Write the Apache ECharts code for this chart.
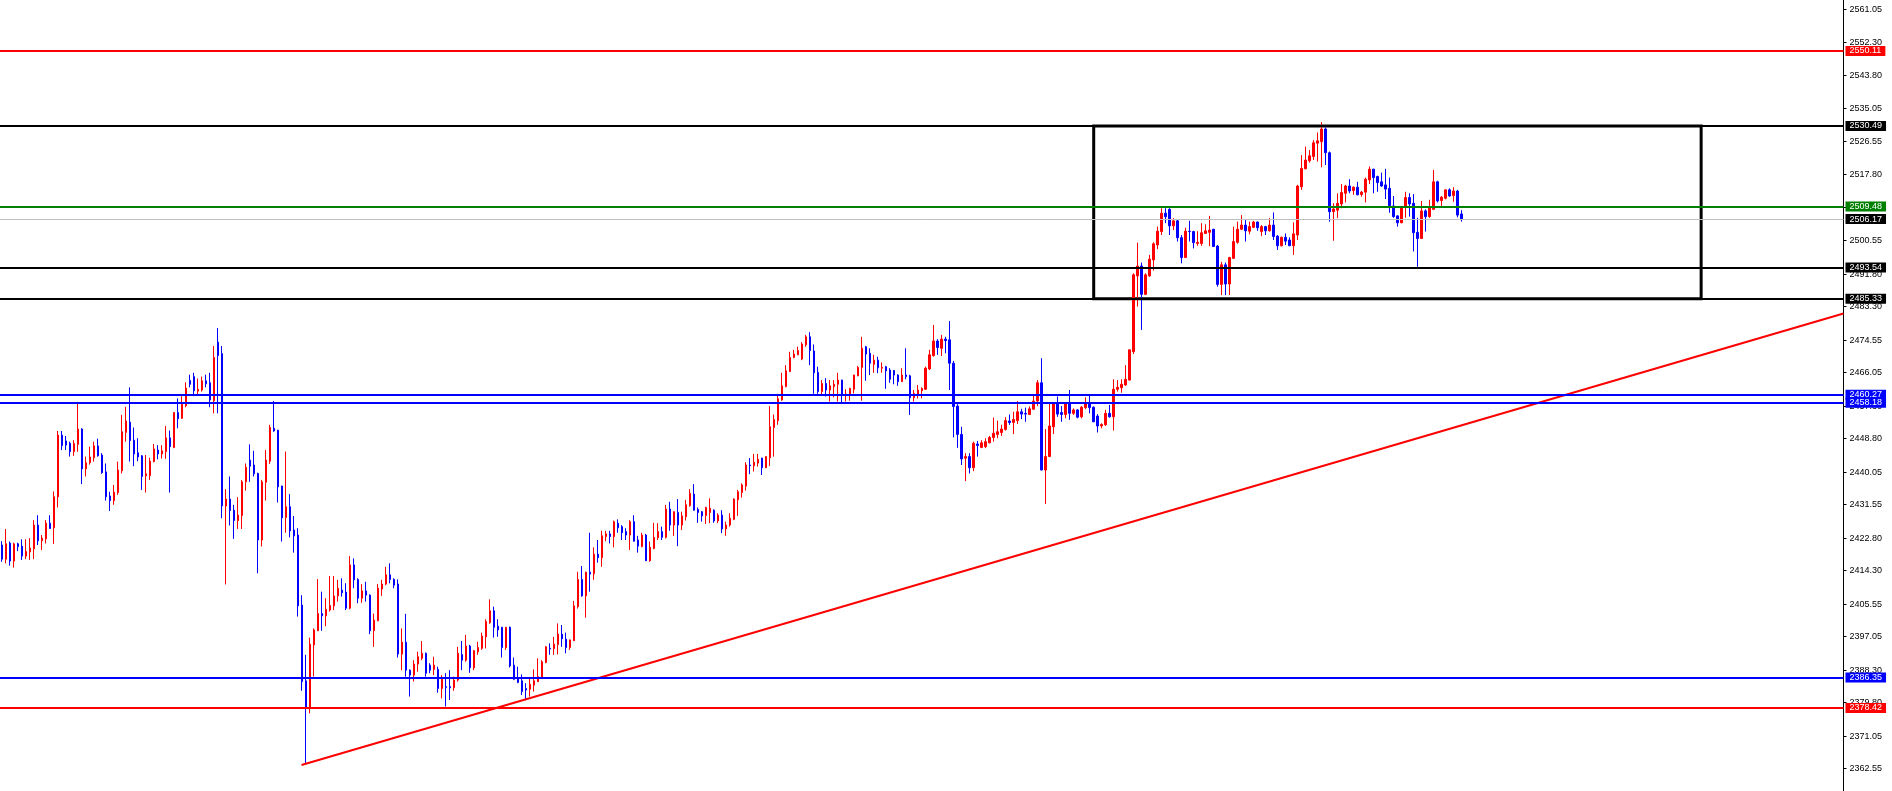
<!DOCTYPE html>
<html><head><meta charset="utf-8">
<script src="https://cdn.jsdelivr.net/npm/echarts@6/dist/echarts.min.js"></script>
<style>html,body{margin:0;padding:0;background:#fff;overflow:hidden}#c{width:1892px;height:791px}</style>
</head><body><div id="c"></div>
<script>
// candles: [open, close, low, high]
const candles = [
[2421.0,2417.3,2416.6,2422.0],[2417.3,2421.3,2416.2,2425.2],[2421.5,2416.8,2415.6,2421.9],[2416.8,2421.3,2415.1,2421.6],
[2421.3,2420.6,2419.4,2421.6],[2420.7,2418.1,2417.1,2422.5],[2418.1,2419.3,2417.3,2422.5],[2419.2,2420.2,2417.1,2422.8],
[2420.0,2426.2,2417.3,2427.5],[2426.2,2422.1,2421.0,2428.8],[2422.1,2422.8,2419.7,2423.6],[2422.6,2426.7,2421.4,2427.5],
[2426.7,2425.3,2425.2,2428.8],[2425.5,2433.6,2421.3,2435.0],[2433.6,2449.7,2430.8,2450.8],[2449.7,2447.0,2445.8,2450.8],
[2448.2,2447.1,2445.8,2449.5],[2447.6,2445.4,2444.1,2448.0],[2445.4,2447.5,2444.3,2448.4],[2447.3,2451.3,2445.4,2458.0],
[2451.3,2440.9,2436.9,2451.5],[2440.9,2442.5,2438.9,2444.1],[2442.5,2444.0,2442.0,2446.7],[2443.8,2446.9,2442.8,2448.0],
[2446.9,2444.3,2444.1,2448.8],[2444.5,2439.9,2439.6,2445.0],[2440.1,2433.6,2432.6,2442.3],[2433.8,2432.6,2429.9,2434.9],
[2432.6,2434.8,2431.5,2436.7],[2434.7,2440.6,2434.1,2442.8],[2440.4,2450.6,2439.7,2455.0],[2450.4,2453.4,2448.0,2457.1],
[2453.1,2448.3,2442.8,2462.2],[2448.4,2444.8,2441.6,2451.7],[2445.1,2444.0,2442.9,2448.9],[2444.3,2438.9,2435.4,2444.5],
[2439.1,2439.6,2434.7,2444.5],[2439.1,2442.9,2438.0,2443.8],[2442.8,2446.1,2442.6,2447.4],[2445.8,2444.8,2443.4,2447.1],
[2444.8,2445.6,2443.6,2447.1],[2445.4,2449.0,2443.5,2452.1],[2449.0,2446.7,2434.7,2450.9],[2446.5,2455.6,2446.3,2455.7],
[2455.6,2454.0,2451.5,2459.3],[2454.1,2457.8,2454.0,2459.9],[2457.4,2462.0,2457.0,2463.5],[2464.0,2463.0,2462.2,2465.5],
[2465.0,2461.3,2459.9,2466.0],[2461.2,2461.7,2460.2,2464.5],[2461.5,2463.9,2461.1,2465.0],[2463.9,2463.1,2462.2,2465.5],
[2463.4,2458.9,2457.0,2466.0],[2458.7,2470.0,2455.4,2473.0],[2474.0,2470.5,2455.4,2477.7],[2471.0,2431.2,2428.0,2473.0],
[2431.2,2433.0,2410.7,2435.6],[2433.0,2430.0,2426.1,2438.9],[2430.1,2427.4,2422.6,2431.5],[2427.4,2428.8,2425.2,2433.5],
[2428.7,2437.5,2425.2,2438.0],[2437.5,2441.3,2435.2,2442.3],[2443.2,2441.6,2437.5,2447.3],[2441.9,2439.6,2438.9,2445.6],
[2439.7,2422.3,2413.6,2439.9],[2422.3,2437.5,2420.6,2438.0],[2437.4,2443.2,2432.6,2445.8],[2442.9,2451.7,2442.2,2452.4],
[2451.5,2450.8,2450.6,2458.6],[2451.0,2436.2,2432.1,2451.1],[2436.4,2428.1,2421.9,2436.5],[2428.2,2431.0,2424.2,2445.4],
[2431.0,2424.7,2423.0,2434.3],[2424.9,2423.4,2419.0,2428.6],[2423.6,2405.1,2402.3,2425.4],[2405.3,2385.3,2382.9,2407.9],
[2385.5,2378.5,2363.9,2392.3],[2378.5,2395.1,2377.0,2396.8],[2394.9,2398.8,2386.6,2399.2],[2398.6,2403.1,2398.5,2412.1],
[2403.1,2402.5,2398.6,2408.8],[2402.5,2404.2,2399.8,2407.1],[2404.0,2405.2,2403.6,2412.9],[2405.1,2407.7,2404.0,2412.9],
[2407.7,2409.7,2406.2,2411.9],[2409.2,2408.5,2407.5,2412.3],[2408.7,2404.5,2404.0,2411.0],[2404.5,2415.8,2404.2,2418.1],
[2415.8,2411.9,2409.7,2417.5],[2412.0,2407.1,2405.8,2412.3],[2407.1,2409.0,2405.9,2410.8],[2409.0,2407.9,2406.2,2411.4],
[2407.9,2398.6,2397.7,2408.1],[2398.6,2401.4,2394.4,2403.1],[2401.2,2409.7,2401.1,2410.8],[2409.5,2410.8,2407.7,2411.9],
[2410.8,2413.2,2410.5,2415.3],[2413.2,2412.0,2411.0,2416.2],[2412.0,2410.5,2409.7,2412.3],[2410.8,2392.5,2391.6,2412.0],
[2392.5,2395.6,2388.3,2399.2],[2395.6,2388.3,2386.6,2403.0],[2388.3,2387.0,2381.4,2388.5],[2387.0,2389.9,2385.3,2390.9],
[2389.9,2391.8,2387.9,2393.1],[2391.4,2392.7,2390.9,2395.9],[2392.7,2387.5,2386.6,2392.9],[2389.6,2388.3,2387.5,2390.1],
[2388.5,2389.6,2387.0,2391.8],[2388.5,2383.5,2382.4,2389.2],[2383.5,2385.9,2380.9,2387.0],[2384.0,2383.8,2378.8,2387.5],
[2384.0,2383.7,2380.5,2388.3],[2383.7,2385.7,2382.9,2386.6],[2385.7,2392.7,2385.3,2394.4],[2392.4,2390.9,2388.3,2395.9],
[2390.9,2394.6,2390.5,2397.5],[2394.6,2388.9,2387.6,2394.9],[2388.9,2393.4,2388.3,2393.6],[2393.1,2394.2,2392.3,2395.7],
[2394.0,2397.2,2393.6,2398.1],[2397.0,2401.0,2394.0,2401.6],[2400.7,2403.8,2400.4,2406.8],[2403.8,2399.5,2396.8,2404.9],
[2399.8,2398.8,2397.0,2401.6],[2399.5,2394.2,2391.6,2399.6],[2394.2,2399.5,2393.6,2399.6],[2399.5,2389.4,2389.0,2399.7],
[2389.6,2385.9,2385.7,2391.6],[2386.1,2385.1,2384.9,2389.2],[2385.5,2382.7,2381.8,2387.2],[2383.5,2383.1,2380.5,2384.9],
[2383.3,2384.6,2381.4,2386.2],[2384.4,2385.5,2382.7,2388.5],[2385.3,2386.6,2385.2,2391.4],[2386.4,2390.5,2386.3,2390.9],
[2390.3,2394.4,2390.1,2394.6],[2394.0,2393.8,2392.3,2395.3],[2393.9,2395.1,2392.3,2397.0],[2395.0,2397.7,2392.4,2400.5],
[2397.7,2396.5,2394.4,2400.1],[2396.4,2394.2,2392.7,2398.1],[2394.2,2396.2,2393.6,2396.3],[2396.0,2405.1,2395.9,2406.4],
[2404.9,2412.0,2404.4,2414.0],[2412.0,2407.7,2407.5,2415.5],[2407.7,2413.9,2402.0,2414.0],[2413.9,2413.4,2408.8,2424.2],
[2413.5,2418.6,2411.9,2420.4],[2418.6,2417.7,2416.4,2422.3],[2417.7,2423.4,2415.3,2424.7],[2423.2,2423.9,2422.0,2424.7],
[2423.9,2423.2,2421.4,2424.7],[2423.2,2427.1,2420.4,2427.4],[2426.7,2425.5,2424.2,2427.7],[2425.8,2424.2,2422.3,2426.2],
[2424.5,2423.6,2422.3,2425.4],[2423.6,2427.1,2419.7,2427.5],[2427.1,2422.0,2421.9,2428.8],[2422.3,2420.7,2419.0,2423.4],
[2420.6,2423.6,2420.4,2424.2],[2423.6,2416.9,2416.8,2423.9],[2416.9,2420.4,2416.6,2421.9],[2420.1,2423.0,2419.9,2426.8],
[2422.9,2424.5,2422.3,2426.7],[2424.5,2423.0,2422.3,2425.8],[2423.0,2430.4,2422.7,2431.5],[2430.4,2426.2,2424.7,2432.3],
[2426.2,2429.7,2423.4,2429.8],[2429.5,2426.2,2420.7,2433.0],[2426.2,2428.6,2424.9,2429.7],[2428.4,2431.5,2427.4,2432.8],
[2431.3,2434.5,2431.0,2435.6],[2434.3,2430.1,2430.0,2436.9],[2430.3,2429.5,2426.8,2430.8],[2429.7,2428.6,2427.1,2429.9],
[2428.7,2430.8,2426.5,2431.0],[2429.5,2430.6,2426.7,2433.2],[2430.1,2427.3,2426.8,2430.3],[2427.3,2428.8,2426.7,2429.3],
[2428.8,2425.2,2424.1,2430.1],[2425.2,2426.2,2423.4,2427.1],[2426.2,2428.0,2425.8,2429.3],[2427.7,2433.0,2427.5,2433.2],
[2432.8,2434.9,2428.6,2435.4],[2434.7,2436.7,2433.4,2437.1],[2436.4,2441.9,2435.2,2442.6],[2441.9,2441.7,2439.5,2443.7],
[2441.7,2442.6,2440.2,2444.8],[2442.4,2443.4,2441.5,2444.8],[2443.7,2441.2,2439.3,2443.8],[2441.2,2444.1,2441.1,2444.2],
[2443.8,2451.9,2441.6,2457.3],[2451.7,2453.8,2444.1,2455.1],[2453.5,2459.2,2452.4,2460.5],[2458.9,2462.6,2458.7,2466.0],
[2462.4,2466.5,2462.2,2468.0],[2466.3,2470.0,2466.2,2471.5],[2470.0,2470.9,2469.8,2472.0],[2470.7,2471.8,2470.6,2472.8],
[2469.6,2473.5,2469.3,2474.0],[2473.3,2475.4,2472.8,2475.9],[2475.4,2471.8,2468.0,2476.6],[2471.7,2466.0,2460.5,2473.4],
[2466.1,2461.1,2460.5,2467.6],[2461.1,2463.2,2460.2,2464.1],[2463.2,2461.5,2459.8,2464.6],[2461.5,2462.6,2458.5,2464.1],
[2462.4,2463.0,2459.6,2464.1],[2463.0,2464.1,2458.5,2466.0],[2464.1,2460.4,2458.2,2464.2],[2460.2,2460.4,2458.5,2461.7],
[2460.4,2461.9,2458.7,2462.1],[2461.7,2465.4,2460.6,2465.5],[2465.2,2467.4,2465.1,2467.8],[2467.4,2472.4,2458.7,2475.4],
[2472.8,2470.9,2463.9,2473.0],[2471.1,2468.5,2465.4,2472.4],[2468.2,2469.3,2466.0,2470.7],[2469.3,2467.3,2465.9,2470.2],
[2467.2,2467.4,2466.0,2468.7],[2467.6,2466.5,2461.8,2467.8],[2466.7,2464.3,2463.4,2467.2],[2466.6,2465.4,2463.0,2466.7],
[2465.4,2463.7,2462.6,2465.6],[2463.7,2465.4,2463.6,2467.2],[2465.4,2465.0,2464.3,2472.4],[2465.2,2459.5,2455.0,2465.5],
[2459.5,2460.6,2458.5,2461.5],[2460.4,2461.5,2459.3,2462.8],[2461.3,2461.9,2459.3,2462.2],[2461.7,2467.2,2461.5,2467.6],
[2467.0,2470.7,2466.7,2472.0],[2470.5,2474.3,2470.2,2478.5],[2474.3,2472.6,2470.7,2474.8],[2472.4,2474.8,2470.4,2475.9],
[2474.8,2474.4,2471.1,2475.4],[2474.6,2468.5,2461.5,2479.5],[2468.5,2457.2,2449.1,2469.1],[2457.3,2449.9,2446.4,2457.8],
[2449.9,2443.5,2441.9,2451.9],[2443.7,2444.1,2437.7,2445.0],[2444.1,2441.2,2439.7,2445.0],[2441.2,2447.6,2440.3,2448.0],
[2447.4,2447.0,2444.1,2448.2],[2446.5,2447.7,2446.3,2448.4],[2446.7,2448.0,2446.3,2448.9],[2447.7,2449.1,2447.6,2449.5],
[2449.1,2450.2,2448.0,2454.3],[2449.9,2450.6,2448.9,2453.5],[2450.4,2451.3,2449.5,2452.4],[2451.2,2453.5,2450.9,2454.4],
[2453.4,2453.0,2452.4,2455.1],[2453.0,2453.8,2450.0,2455.8],[2453.5,2455.8,2452.6,2458.6],[2455.8,2455.2,2453.9,2456.6],
[2455.4,2455.2,2453.2,2456.9],[2455.1,2456.6,2455.0,2457.2],[2456.5,2458.6,2456.3,2460.2],[2458.6,2463.4,2457.3,2464.1],
[2463.4,2440.6,2440.5,2469.8],[2440.6,2444.1,2431.7,2451.3],[2444.1,2452.1,2444.0,2458.0],[2451.9,2458.0,2450.0,2458.1],
[2458.0,2455.2,2454.5,2459.8],[2455.6,2455.1,2453.2,2457.3],[2455.1,2458.0,2454.1,2458.1],[2458.0,2455.4,2453.7,2461.5],
[2455.4,2456.3,2455.0,2456.7],[2456.3,2454.4,2454.1,2456.5],[2454.5,2457.0,2454.1,2457.3],[2456.9,2458.0,2456.5,2459.6],
[2458.0,2456.9,2455.4,2460.2],[2457.0,2453.2,2453.1,2457.2],[2454.7,2452.1,2450.4,2455.2],[2452.1,2452.5,2451.5,2452.8],
[2452.4,2455.4,2452.1,2456.3],[2455.4,2454.5,2454.3,2457.6],[2454.5,2461.7,2450.9,2464.3],[2461.7,2462.2,2461.1,2464.1],
[2462.1,2463.0,2460.8,2464.3],[2462.8,2464.3,2462.6,2468.0],[2464.1,2472.0,2464.0,2472.1],[2471.5,2491.6,2470.9,2492.0],
[2491.3,2493.9,2483.3,2500.0],[2493.9,2486.5,2477.2,2494.8],[2486.5,2491.6,2486.3,2492.0],[2491.3,2495.7,2491.1,2496.8],
[2495.5,2499.7,2492.7,2500.1],[2499.4,2503.0,2498.3,2504.2],[2502.9,2507.7,2502.0,2509.0],[2507.7,2506.8,2505.1,2509.0],
[2508.7,2504.4,2502.0,2509.0],[2504.4,2505.7,2503.3,2506.4],[2505.7,2501.3,2500.3,2506.1],[2501.3,2496.1,2494.6,2502.0],
[2496.1,2503.0,2496.0,2503.9],[2503.0,2502.9,2500.3,2505.7],[2502.9,2500.0,2498.5,2503.1],[2499.8,2500.1,2499.2,2503.0],
[2499.8,2502.6,2499.2,2505.1],[2502.4,2503.1,2502.3,2504.8],[2502.7,2503.3,2499.1,2507.0],[2503.5,2499.0,2498.9,2503.6],
[2499.1,2489.1,2488.5,2499.4],[2489.1,2494.2,2486.3,2495.0],[2494.2,2489.2,2486.3,2494.8],[2489.2,2496.1,2486.3,2496.3],
[2495.9,2500.3,2495.8,2504.2],[2500.1,2503.5,2499.7,2505.5],[2503.5,2504.6,2503.3,2507.2],[2504.6,2503.1,2500.3,2505.9],
[2503.0,2504.2,2502.2,2505.5],[2504.0,2505.4,2503.9,2505.7],[2505.4,2503.9,2503.1,2505.5],[2502.9,2504.2,2501.7,2504.6],
[2504.2,2503.1,2502.0,2504.4],[2503.1,2504.6,2502.9,2506.4],[2504.6,2501.6,2500.7,2507.9],[2501.7,2499.2,2498.1,2502.0],
[2499.2,2501.4,2499.0,2501.6],[2501.4,2500.4,2499.4,2502.4],[2500.7,2499.2,2499.1,2501.4],[2499.2,2502.3,2496.8,2505.3],
[2502.0,2514.8,2500.7,2515.1],[2514.6,2519.4,2513.8,2522.9],[2519.3,2521.6,2519.2,2525.1],[2521.4,2522.7,2520.9,2524.2],
[2522.5,2526.1,2521.6,2526.8],[2526.0,2526.6,2521.2,2528.8],[2526.4,2529.7,2519.7,2531.5],[2529.7,2523.5,2520.3,2530.1],
[2523.5,2508.1,2505.5,2523.8],[2508.1,2508.8,2500.5,2510.3],[2508.5,2510.3,2506.4,2512.9],[2510.1,2513.1,2509.0,2515.3],
[2512.9,2514.8,2510.5,2515.1],[2514.8,2513.5,2512.9,2516.6],[2513.6,2514.5,2512.5,2514.7],[2514.5,2512.5,2512.4,2515.9],
[2512.6,2513.2,2512.0,2513.5],[2513.2,2516.6,2510.5,2517.0],[2516.4,2519.2,2515.3,2519.9],[2519.2,2517.0,2512.9,2519.3],
[2517.3,2515.7,2513.3,2517.5],[2515.9,2514.8,2514.6,2518.3],[2515.1,2514.0,2511.4,2519.3],[2514.2,2509.6,2507.8,2517.0],
[2509.6,2506.8,2506.5,2512.2],[2507.0,2505.2,2504.2,2507.2],[2505.2,2509.4,2505.1,2509.6],[2509.2,2511.8,2506.5,2513.3],
[2511.8,2510.1,2506.8,2512.9],[2510.3,2502.6,2497.7,2512.7],[2502.7,2501.1,2493.7,2506.5],[2501.1,2508.3,2501.0,2510.9],
[2508.3,2506.8,2502.9,2508.7],[2506.8,2509.2,2506.5,2511.2],[2508.7,2515.9,2508.5,2519.0],[2515.9,2510.9,2510.5,2516.2],
[2511.0,2511.9,2509.6,2512.2],[2511.6,2513.8,2511.3,2513.9],[2513.8,2512.2,2512.0,2514.2],[2512.3,2513.5,2510.7,2514.5],
[2513.5,2507.2,2506.6,2513.8],[2507.5,2506.2,2505.5,2508.5]
];
const totalBars = 461; // chart shifted: empty bars on the right
const priceTicks = [2561.05,2552.30,2543.80,2535.05,2526.55,2517.80,2509.30,2500.55,2491.80,2483.30,2474.55,2466.05,
  2457.30,2448.80,2440.05,2431.55,2422.80,2414.30,2405.55,2397.05,2388.30,2379.80,2371.05,2362.55];
const priceMin = 2356.72, priceMax = 2563.41;
const levelValues = [2550.11, 2530.49, 2509.48, 2506.17, 2493.54, 2485.33, 2460.27, 2458.18, 2386.35, 2378.42];
const trendPoints = [[74.9, 2363.5], [460.5, 2481.5]];
const boxCorners = [[273, 2530.49], [424.9, 2485.33]];

// styles
const levelColors = ['#ff0000','#000000','#008000','#c0c0c0','#000000','#000000','#0000ff','#0000ff','#0000ff','#ff0000'];
const levelWidths = [2,2,2,1,2,2,2,2,2,2];
const levelLabelBg = ['#ff0000','#000000','#008000','#000000','#000000','#000000','#0000ff','#0000ff','#0000ff','#ff0000'];
const FONT = '"Liberation Sans", Arial, sans-serif';

const categories = Array.from({length: totalBars}, (_, i) => String(i));
const seriesData = candles.concat(Array(totalBars - candles.length).fill('-'));

const chart = echarts.init(document.getElementById('c'), null, {renderer: 'canvas'});
chart.setOption({
  animation: false,
  backgroundColor: '#ffffff',
  grid: {left: -0.5, right: 48.5, top: 0, bottom: 0, containLabel: false},
  xAxis: [
    {type: 'category', data: categories, show: false, boundaryGap: true},
    {type: 'value', min: -0.5, max: totalBars - 0.5, show: false}
  ],
  yAxis: {
    type: 'value', position: 'right', min: priceMin, max: priceMax, scale: true,
    splitLine: {show: false},
    axisLine: {show: true, onZero: false, lineStyle: {color: '#000', width: 1}},
    axisTick: {show: true, length: 3, lineStyle: {color: '#000'}, customValues: priceTicks},
    axisLabel: {show: true, customValues: priceTicks, margin: 6, color: '#000', fontSize: 9, fontFamily: FONT,
      formatter: v => v.toFixed(2)}
  },
  series: [
    {
      type: 'candlestick', xAxisIndex: 0, data: seriesData, barWidth: 2, z: 2,
      itemStyle: {color: '#ff0000', color0: '#0000ff', borderColor: '#ff0000', borderColor0: '#0000ff', borderWidth: 1}
    },
    {
      type: 'line', xAxisIndex: 1, data: trendPoints, symbol: 'none', clip: false, z: 4, silent: true,
      lineStyle: {color: '#ff0000', width: 2},
      markArea: {
        silent: true,
        itemStyle: {color: 'rgba(0,0,0,0)', borderColor: '#000', borderWidth: 3},
        data: [[{coord: boxCorners[0]}, {coord: boxCorners[1]}]]
      },
      markLine: {
        silent: true, symbol: ['none', 'none'], animation: false,
        data: levelValues.map((v, k) => ({
          yAxis: v,
          lineStyle: {color: levelColors[k], width: levelWidths[k], type: 'solid'},
          label: {show: true, position: 'end', distance: 2, formatter: v.toFixed(2), color: '#fff',
            backgroundColor: levelLabelBg[k], padding: [1, 4, 0, 4], fontSize: 9, fontFamily: FONT, lineHeight: 9}
        }))
      }
    }
  ]
});
</script>
</body></html>
